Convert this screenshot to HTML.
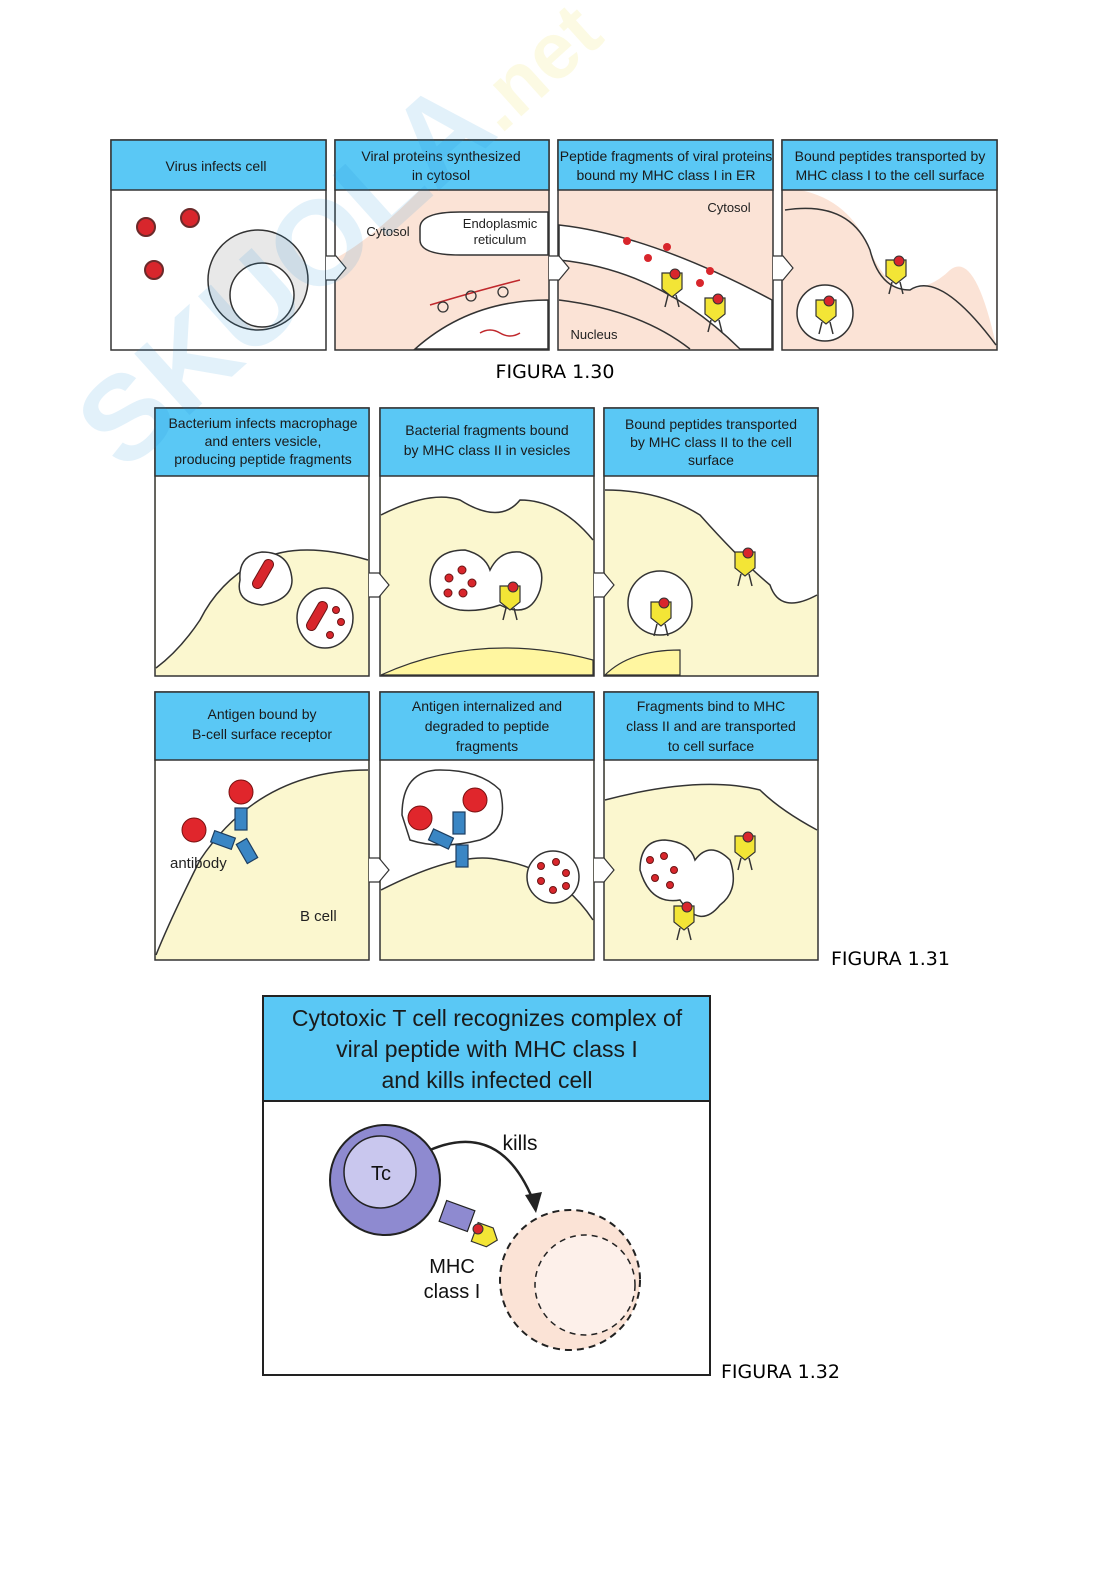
<!DOCTYPE html>
<html><head><meta charset="utf-8"><style>
html,body{margin:0;padding:0;background:#fff}
svg{display:block}
text{font-family:"Liberation Sans",sans-serif}
.h{font-size:14px;fill:#1a1a1a}
.f{font-family:"DejaVu Sans",sans-serif;font-size:19px;fill:#000}
</style></head><body>
<svg width="1116" height="1579" viewBox="0 0 1116 1579" xmlns="http://www.w3.org/2000/svg">
<defs>
<g id="mhc"><path d="M-10,-12 h20 v16 l-10,8 l-10,-8z" fill="#f3e536" stroke="#333" stroke-width="1.2"/><circle cx="3" cy="-11" r="5" fill="#d8262c" stroke="#333" stroke-width="1"/><line x1="-4" y1="10" x2="-7" y2="22" stroke="#333" stroke-width="1.5"/><line x1="4" y1="10" x2="7" y2="22" stroke="#333" stroke-width="1.5"/></g>
<g id="arr"><path d="M0,-12 h10 l10,12 l-10,12 h-10" fill="#fff" stroke="#333" stroke-width="1.2"/></g>
</defs>

<!-- FIG 1.30 -->
<g stroke="#333" stroke-width="1.5">
<rect x="111" y="140" width="215" height="210" fill="#fff"/>
<rect x="335" y="140" width="214" height="210" fill="#fbe3d6"/>
<rect x="558" y="140" width="215" height="210" fill="#fbe3d6"/>
<rect x="782" y="140" width="215" height="210" fill="#fbe3d6"/>
</g>
<path d="M336,190 L420,190 Q370,240 336,258z" fill="#fff"/>
<path d="M420,228 Q420,212 460,212 L548,212 L548,255 L460,255 Q420,255 420,240z" fill="#fff" stroke="#333" stroke-width="1.5"/>
<path d="M415,349 Q470,300 548,300 L548,349z" fill="#fff" stroke="#333" stroke-width="1.5"/>
<path d="M559,225 Q650,235 772,300 L772,349 L740,349 Q660,270 559,260z" fill="#fff" stroke="#333" stroke-width="1.5"/>
<path d="M559,300 Q640,310 690,349" fill="none" stroke="#333" stroke-width="1.5"/>
<path d="M783,190 L800,190 Q850,200 870,250 Q880,275 900,290 Q930,290 950,270 Q975,250 996,345 L996,190z" fill="#fff"/>
<path d="M785,210 Q850,200 870,250 Q880,290 910,290 Q940,270 996,345" fill="none" stroke="#333" stroke-width="1.5"/>
<circle cx="825" cy="313" r="28" fill="#fff" stroke="#333" stroke-width="1.5"/>
<use href="#mhc" transform="translate(826,312)"/>
<use href="#mhc" transform="translate(896,272)"/>
<use href="#mhc" transform="translate(672,285)"/><use href="#mhc" transform="translate(715,310)"/>
<g fill="#d8262c"><circle cx="627" cy="241" r="4"/><circle cx="648" cy="258" r="4"/><circle cx="667" cy="247" r="4"/><circle cx="700" cy="283" r="4"/><circle cx="710" cy="271" r="4"/></g>
<circle cx="258" cy="280" r="50" fill="#e8e8e8" stroke="#333" stroke-width="1.5"/>
<circle cx="262" cy="295" r="32" fill="#fff" stroke="#333" stroke-width="1.5"/>
<g fill="#d8262c" stroke="#6b2a2a" stroke-width="2">
<circle cx="146" cy="227" r="9"/><circle cx="190" cy="218" r="9"/><circle cx="154" cy="270" r="9"/></g>
<path d="M430,305 Q480,290 520,280" fill="none" stroke="#c0282c" stroke-width="1.5"/>
<path d="M480,333 q10,-6 20,0 q10,6 20,0" fill="none" stroke="#c0282c" stroke-width="1.5"/>
<g fill="none" stroke="#333" stroke-width="1.3"><circle cx="443" cy="307" r="5"/><circle cx="471" cy="296" r="5"/><circle cx="503" cy="292" r="5"/></g>
<g fill="#5ac8f5" stroke="#333" stroke-width="1.5">
<rect x="111" y="140" width="215" height="50"/><rect x="335" y="140" width="214" height="50"/>
<rect x="558" y="140" width="215" height="50"/><rect x="782" y="140" width="215" height="50"/></g>
<use href="#arr" transform="translate(326,268)"/><use href="#arr" transform="translate(549,268)"/><use href="#arr" transform="translate(773,268)"/>
<g class="h" text-anchor="middle" font-size="13">
<text x="216" y="171">Virus infects cell</text>
<text x="441" y="161">Viral proteins synthesized</text><text x="441" y="180">in cytosol</text>
<text x="666" y="161">Peptide fragments of viral proteins</text><text x="666" y="180">bound my MHC class I in ER</text>
<text x="890" y="161">Bound peptides transported by</text><text x="890" y="180">MHC class I to the cell surface</text></g>
<g font-size="13" fill="#222" text-anchor="middle"><text x="388" y="236">Cytosol</text><text x="500" y="228">Endoplasmic</text><text x="500" y="244">reticulum</text><text x="729" y="212">Cytosol</text><text x="594" y="339">Nucleus</text></g>
<text class="f" x="555" y="378" text-anchor="middle">FIGURA 1.30</text>

<!-- FIG 1.31 -->
<g stroke="#333" stroke-width="1.5" fill="#fbf7cf">
<rect x="155" y="408" width="214" height="268"/><rect x="380" y="408" width="214" height="268"/><rect x="604" y="408" width="214" height="268"/>
<rect x="155" y="692" width="214" height="268"/><rect x="380" y="692" width="214" height="268"/><rect x="604" y="692" width="214" height="268"/></g>
<path d="M156,476 H368 V560 Q300,540 260,560 Q220,580 200,620 Q180,650 156,668z" fill="#fff"/>
<path d="M381,476 H593 V540 Q560,500 520,500 Q500,525 460,500 Q430,490 381,515z" fill="#fff"/>
<path d="M605,476 H817 V595 Q780,615 770,585 Q740,560 700,515 Q660,490 605,490z" fill="#fff"/>
<path d="M156,760 H368 V770 Q260,770 200,860 Q170,920 156,955z" fill="#fff"/>
<path d="M381,760 H593 V920 Q560,870 500,860 Q460,850 381,890z" fill="#fff"/>
<path d="M605,760 H817 V830 Q780,810 760,790 Q700,775 605,800z" fill="#fff"/>
<g fill="none" stroke="#333" stroke-width="1.5">
<path d="M156,668 Q180,650 200,620 Q220,580 260,560 Q300,540 368,560"/>
<path d="M381,515 Q430,490 460,500 Q500,525 520,500 Q560,500 593,540"/>
<path d="M605,490 Q660,490 700,515 Q740,560 770,585 Q780,615 817,595"/>
<path d="M156,955 Q170,920 200,860 Q260,770 368,770"/>
<path d="M381,890 Q460,850 500,860 Q560,870 593,920"/>
<path d="M605,800 Q700,775 760,790 Q780,810 817,830"/></g>
<g fill="#fff6a0" stroke="#333" stroke-width="1.2">
<path d="M381,675 Q480,630 593,660 V675z"/><path d="M605,675 Q630,650 680,650 V675z"/></g>
<g fill="#fff" stroke="#333" stroke-width="1.5">
<path d="M240,580 Q238,555 262,552 Q290,552 292,580 Q292,600 262,605 Q235,602 240,580z"/>
<ellipse cx="325" cy="618" rx="28" ry="30"/>
<path d="M430,580 Q432,550 465,550 Q485,555 490,570 Q500,550 520,552 Q548,560 540,590 Q530,620 500,605 Q480,612 460,610 Q430,605 430,580z"/>
<circle cx="660" cy="603" r="32"/>
<path d="M402,815 Q402,770 440,770 Q480,770 500,790 Q510,830 480,840 Q440,850 410,840z"/>
<circle cx="553" cy="877" r="26"/>
<path d="M640,870 Q640,840 665,840 Q690,842 695,860 Q710,840 730,860 Q740,890 720,905 Q700,930 680,900 Q650,905 640,870z"/></g>
<g fill="#d8262c" stroke="#6b1515" stroke-width="1">
<rect x="258" y="558" width="10" height="32" rx="5" transform="rotate(30 263 574)"/>
<rect x="312" y="600" width="10" height="32" rx="5" transform="rotate(30 317 616)"/>
<circle cx="336" cy="610" r="3.5"/><circle cx="341" cy="622" r="3.5"/><circle cx="330" cy="635" r="3.5"/>
<circle cx="449" cy="578" r="4"/><circle cx="462" cy="570" r="4"/><circle cx="472" cy="583" r="4"/><circle cx="448" cy="593" r="4"/><circle cx="463" cy="593" r="4"/>
<circle cx="541" cy="866" r="3.5"/><circle cx="556" cy="862" r="3.5"/><circle cx="566" cy="873" r="3.5"/><circle cx="541" cy="881" r="3.5"/><circle cx="553" cy="890" r="3.5"/><circle cx="566" cy="886" r="3.5"/>
<circle cx="650" cy="860" r="3.5"/><circle cx="664" cy="856" r="3.5"/><circle cx="674" cy="870" r="3.5"/><circle cx="655" cy="878" r="3.5"/><circle cx="670" cy="885" r="3.5"/></g>
<use href="#mhc" transform="translate(510,598)"/><use href="#mhc" transform="translate(661,614)"/><use href="#mhc" transform="translate(745,564)"/>
<use href="#mhc" transform="translate(745,848)"/><use href="#mhc" transform="translate(684,918)"/>
<g fill="#3a86c4" stroke="#1d3e60" stroke-width="1.2">
<rect x="235" y="808" width="12" height="22"/><rect x="212" y="834" width="22" height="12" transform="rotate(20 223 840)"/><rect x="241" y="840" width="12" height="22" transform="rotate(-30 247 851)"/>
<rect x="453" y="812" width="12" height="22"/><rect x="430" y="833" width="22" height="12" transform="rotate(25 441 839)"/><rect x="456" y="845" width="12" height="22"/></g>
<g fill="#e0262c" stroke="#7a1010" stroke-width="1">
<circle cx="194" cy="830" r="12"/><circle cx="241" cy="792" r="12"/><circle cx="420" cy="818" r="12"/><circle cx="475" cy="800" r="12"/></g>
<g fill="#5ac8f5" stroke="#333" stroke-width="1.5">
<rect x="155" y="408" width="214" height="68"/><rect x="380" y="408" width="214" height="68"/><rect x="604" y="408" width="214" height="68"/>
<rect x="155" y="692" width="214" height="68"/><rect x="380" y="692" width="214" height="68"/><rect x="604" y="692" width="214" height="68"/></g>
<use href="#arr" transform="translate(369,585)"/><use href="#arr" transform="translate(594,585)"/>
<use href="#arr" transform="translate(369,870)"/><use href="#arr" transform="translate(594,870)"/>
<g class="h" text-anchor="middle">
<text x="263" y="428">Bacterium infects macrophage</text><text x="263" y="446">and enters vesicle,</text><text x="263" y="464">producing peptide fragments</text>
<text x="487" y="435">Bacterial fragments bound</text><text x="487" y="455">by MHC class II in vesicles</text>
<text x="711" y="429">Bound peptides transported</text><text x="711" y="447">by MHC class II to the cell</text><text x="711" y="465">surface</text>
<text x="262" y="719">Antigen bound by</text><text x="262" y="739">B-cell surface receptor</text>
<text x="487" y="711">Antigen internalized and</text><text x="487" y="731">degraded to peptide</text><text x="487" y="751">fragments</text>
<text x="711" y="711">Fragments bind to MHC</text><text x="711" y="731">class II and are transported</text><text x="711" y="751">to cell surface</text></g>
<g font-size="15" fill="#222"><text x="170" y="868">antibody</text><text x="300" y="921">B cell</text></g>
<text class="f" x="831" y="965">FIGURA 1.31</text>

<!-- FIG 1.32 -->
<rect x="263" y="996" width="447" height="379" fill="#fff" stroke="#222" stroke-width="2"/>
<rect x="263" y="996" width="447" height="105" fill="#5ac8f5" stroke="#222" stroke-width="2"/>
<g text-anchor="middle" font-size="23" fill="#1a1a1a"><text x="487" y="1026">Cytotoxic T cell recognizes complex of</text><text x="487" y="1057">viral peptide with MHC class I</text><text x="487" y="1088">and kills infected cell</text></g>
<circle cx="570" cy="1280" r="70" fill="#fbe3d6" stroke="#222" stroke-width="2" stroke-dasharray="7,5"/>
<circle cx="585" cy="1285" r="50" fill="#fdf0ea" stroke="#222" stroke-width="1.5" stroke-dasharray="6,5"/>
<circle cx="385" cy="1180" r="55" fill="#8e8ad0" stroke="#222" stroke-width="2"/>
<circle cx="380" cy="1172" r="36" fill="#c9c7ee" stroke="#222" stroke-width="1.5"/>
<text x="381" y="1180" text-anchor="middle" font-size="20" fill="#111">Tc</text>
<path d="M430,1150 Q500,1120 533,1200" fill="none" stroke="#222" stroke-width="2.5"/>
<path d="M525,1195 L536,1213 L542,1192z" fill="#222"/>
<text x="520" y="1150" text-anchor="middle" font-size="21" fill="#111">kills</text>
<rect x="442" y="1205" width="30" height="22" fill="#8e8ad0" stroke="#222" stroke-width="1.2" transform="rotate(20 457 1216)"/>
<g transform="translate(486,1236) rotate(-70)"><path d="M-10,-12 h20 v16 l-10,8 l-10,-8z" fill="#f3e536" stroke="#333" stroke-width="1.2"/></g>
<circle cx="478" cy="1229" r="5" fill="#d8262c" stroke="#333"/>
<g text-anchor="middle" font-size="20" fill="#111"><text x="452" y="1273">MHC</text><text x="452" y="1298">class I</text></g>
<text class="f" x="721" y="1378">FIGURA 1.32</text>

<!-- watermark -->
<g opacity="0.12" transform="rotate(-42 250 300)"><text x="40" y="345" font-size="120" font-weight="bold" fill="#1a8fd8" style="font-family:'Liberation Sans',sans-serif">SKUOLA<tspan fill="#e8d820" font-size="80">.net</tspan></text></g>
</svg>
</body></html>
